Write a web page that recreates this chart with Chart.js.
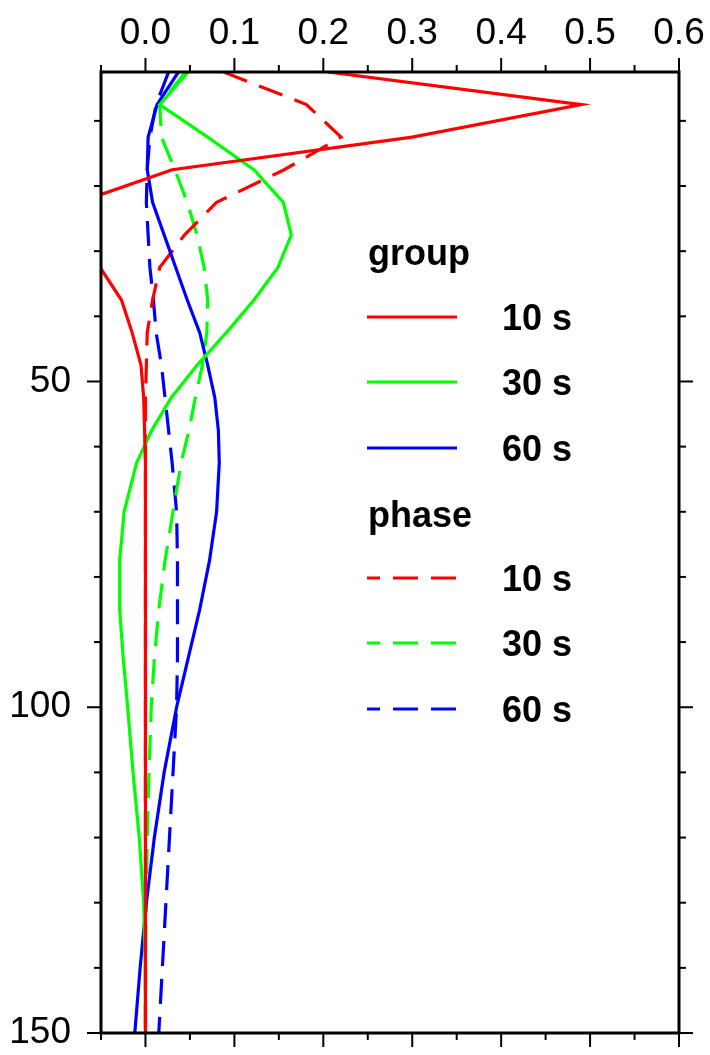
<!DOCTYPE html>
<html lang="en">
<head>
    <meta charset="UTF-8">
    <title>Sensitivity kernels</title>
    <script src="https://cdn.jsdelivr.net/npm/chart.js@4.4.1/dist/chart.umd.js"></script>
    <style>
        body { margin: 0; background: #fff; }
        canvas { display: block; }
    </style>
</head>
<body>
    <canvas id="kernels" width="710" height="1055"></canvas>

    <script>
        // depth (km) of each sample
        const depth = [2.5, 7.5, 12.5, 17.5, 22.5, 27.5, 32.5, 37.5, 42.5, 47.5, 52.5, 57.5, 62.5, 70, 77.5, 85, 92.5, 100, 110, 120, 130, 140, 150];

        // group velocity kernels
        const group10 = [0.205, 0.49, 0.30, 0.03, -0.075, -0.085, -0.051, -0.027, -0.015, -0.005, -0.002, -0.001, 0, 0, 0, 0, 0, 0, 0, 0, 0, 0, 0];
        const group30 = [0.048, 0.016, 0.07, 0.122, 0.155, 0.164, 0.149, 0.122, 0.091, 0.058, 0.029, 0.007, -0.010, -0.024, -0.029, -0.029, -0.025, -0.020, -0.014, -0.007, -0.002, 0, 0];
        const group60 = [0.037, 0.013, 0.003, 0.002, 0.008, 0.021, 0.034, 0.047, 0.061, 0.070, 0.078, 0.082, 0.083, 0.080, 0.072, 0.061, 0.048, 0.035, 0.021, 0.010, 0.001, -0.006, -0.012];

        // phase velocity kernels
        const phase10 = [0.088, 0.181, 0.22, 0.156, 0.08, 0.044, 0.016, 0.008, 0.002, 0.001, 0, 0, 0, 0, 0, 0, 0, 0, 0, 0, 0, 0, 0];
        const phase30 = [0.045, 0.016, 0.018, 0.033, 0.047, 0.058, 0.066, 0.07, 0.069, 0.064, 0.056, 0.049, 0.040, 0.031, 0.022, 0.015, 0.010, 0.0065, 0.004, 0.002, 0.001, 0, 0];
        const phase60 = [0.026, 0.012, 0.005, 0.002, 0.001, 0.003, 0.005, 0.009, 0.012, 0.018, 0.022, 0.026, 0.030, 0.035, 0.036, 0.036, 0.036, 0.035, 0.031, 0.027, 0.023, 0.019, 0.015];

        const periods = ['10 s', '30 s', '60 s'];

        // ticks
        const xMajor = [0.0, 0.1, 0.2, 0.3, 0.4, 0.5, 0.6];
        const xMinor = [-0.05, 0.05, 0.15, 0.25, 0.35, 0.45, 0.55];
        const yMajor = [50, 100, 150];
        const yMinor = [10, 20, 30, 40, 60, 70, 80, 90, 110, 120, 130, 140];

        const FONT = "'Liberation Sans', Arial, Helvetica, sans-serif";
        const colors = ['#ff0000', '#00ff00', '#0000ff'];
        const DASH = [25, 13];
        const LW = 3.2;

        function profile(values) {
            return values.map((v, i) => ({ x: v, y: depth[i] }));
        }

        const groups = [group10, group30, group60];
        const phases = [phase10, phase30, phase60];
        const datasets = [];
        groups.forEach((vals, i) => datasets.push({
            label: 'group ' + periods[i], data: profile(vals),
            borderColor: colors[i], borderWidth: LW, pointRadius: 0, tension: 0
        }));
        phases.forEach((vals, i) => datasets.push({
            label: 'phase ' + periods[i], data: profile(vals),
            borderColor: colors[i], borderWidth: LW, pointRadius: 0, tension: 0,
            borderDash: DASH
        }));

        function isMajor(v, list) {
            return list.some(m => Math.abs(m - v) < 1e-9);
        }

        // labels must not push the plot area around
        function noPadding(s) {
            s.paddingTop = 0; s.paddingBottom = 0;
            s.paddingLeft = 0; s.paddingRight = 0;
        }

        // frame, tick marks and the two-block legend
        const framePlugin = {
            id: 'frame',
            afterDraw(chart) {
                const ctx = chart.ctx;
                const a = chart.chartArea;
                const xs = chart.scales.x, ys = chart.scales.y;
                ctx.save();
                ctx.strokeStyle = '#000';
                ctx.lineWidth = 2;
                const tick = (x1, y1, x2, y2) => {
                    ctx.beginPath(); ctx.moveTo(x1, y1); ctx.lineTo(x2, y2); ctx.stroke();
                };
                xMajor.concat(xMinor).forEach(v => {
                    const px = xs.getPixelForValue(v);
                    const len = isMajor(v, xMajor) ? 14 : 7;
                    tick(px, a.top, px, a.top - len);
                    tick(px, a.bottom, px, a.bottom + len);
                });
                yMajor.concat(yMinor).forEach(v => {
                    const py = ys.getPixelForValue(v);
                    const len = isMajor(v, yMajor) ? 14 : 7;
                    tick(a.left, py, a.left - len, py);
                    tick(a.right, py, a.right + len, py);
                });
                ctx.lineWidth = 3;
                ctx.strokeRect(a.left, a.top, a.right - a.left, a.bottom - a.top);

                // legend
                ctx.font = 'bold 36px ' + FONT;
                ctx.fillStyle = '#000';
                ctx.textAlign = 'left';
                ctx.textBaseline = 'alphabetic';
                const blocks = [
                    { title: 'group', titleY: 265, rows: [317, 382, 448], dash: [] },
                    { title: 'phase', titleY: 527, rows: [578, 643, 709], dash: DASH }
                ];
                blocks.forEach(b => {
                    ctx.fillText(b.title, 368, b.titleY);
                    b.rows.forEach((y, i) => {
                        ctx.strokeStyle = colors[i];
                        ctx.lineWidth = LW;
                        ctx.setLineDash(b.dash);
                        ctx.lineDashOffset = b.dash.length ? 12 : 0;
                        tick(367, y, 457, y);
                        ctx.setLineDash([]);
                        ctx.fillText(periods[i], 502, y + 13);
                    });
                });
                ctx.restore();
            }
        };

        new Chart(document.getElementById('kernels'), {
            type: 'line',
            data: { datasets },
            options: {
                responsive: false,
                animation: false,
                layout: { padding: { top: 0, left: 0, right: 31, bottom: 22 } },
                plugins: { legend: { display: false }, tooltip: { enabled: false } },
                scales: {
                    x: {
                        type: 'linear',
                        position: 'top',
                        min: -0.05,
                        max: 0.6,
                        afterBuildTicks: s => { s.ticks = xMajor.map(v => ({ value: v })); },
                        afterFit: s => { s.height = 72; noPadding(s); },
                        grid: { display: false, drawTicks: false },
                        border: { display: false },
                        ticks: {
                            autoSkip: false,
                            maxRotation: 0,
                            padding: 16,
                            color: '#000',
                            font: { family: FONT, size: 37 },
                            callback: v => v.toFixed(1)
                        }
                    },
                    y: {
                        type: 'linear',
                        reverse: true,
                        min: 2.5,
                        max: 150,
                        afterBuildTicks: s => { s.ticks = yMajor.map(v => ({ value: v })); },
                        afterFit: s => { s.width = 101; noPadding(s); },
                        grid: { display: false, drawTicks: false },
                        border: { display: false },
                        ticks: {
                            autoSkip: false,
                            padding: 30,
                            color: '#000',
                            font: { family: FONT, size: 37 },
                            callback: v => String(v)
                        }
                    }
                }
            },
            plugins: [framePlugin]
        });
    </script>
</body>
</html>
